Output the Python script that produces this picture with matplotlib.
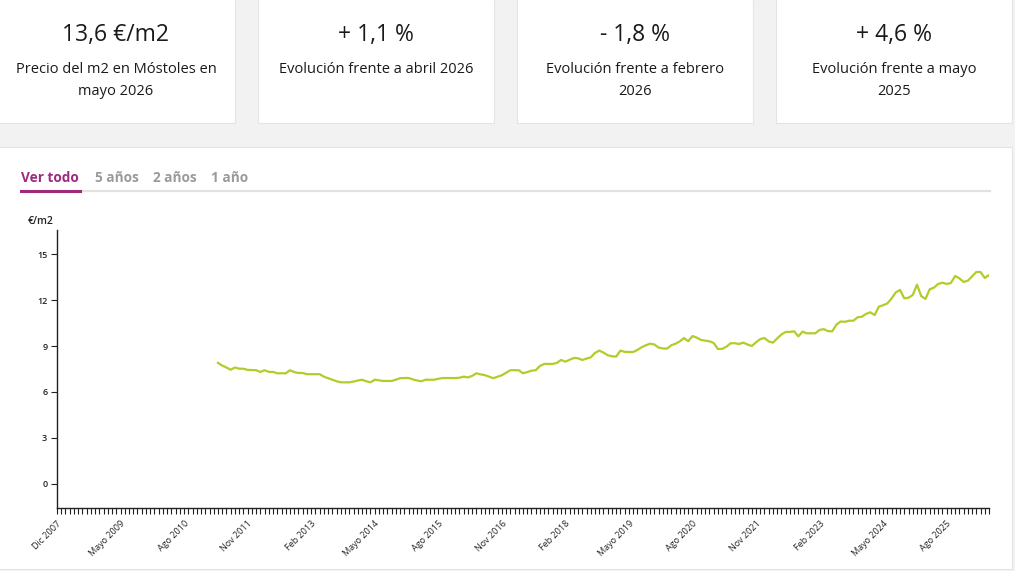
import matplotlib
matplotlib.use("Agg")
import matplotlib.pyplot as plt
from matplotlib.patches import Rectangle
from matplotlib.lines import Line2D

plt.rcParams['font.family'] = ['Open Sans', 'DejaVu Sans']

# Summary cards
card_values = ["13,6 €/m2", "+ 1,1 %", "- 1,8 %", "+ 4,6 %"]
card_labels = ["Precio del m2 en Móstoles en\nmayo 2026",
               "Evolución frente a abril 2026",
               "Evolución frente a febrero\n2026",
               "Evolución frente a mayo\n2025"]

# Tabs
tabs = ["Ver todo", "5 años", "2 años", "1 año"]

# X axis: month index, labels every 15 months
tick_labels = ["Dic 2007", "Mayo 2009", "Ago 2010", "Nov 2011", "Feb 2013",
               "Mayo 2014", "Ago 2015", "Nov 2016", "Feb 2018", "Mayo 2019",
               "Ago 2020", "Nov 2021", "Feb 2023", "Mayo 2024", "Ago 2025"]
n_months = 220
start_month = 38

# Price in €/m2, one value per month
prices = [
    7.90, 7.72, 7.60, 7.45, 7.60, 7.52, 7.52, 7.44, 7.43, 7.42,
    7.31, 7.42, 7.31, 7.31, 7.22, 7.22, 7.22, 7.42, 7.30, 7.24,
    7.24, 7.16, 7.16, 7.16, 7.16, 7.00, 6.90, 6.80, 6.70, 6.63,
    6.63, 6.63, 6.68, 6.75, 6.80, 6.70, 6.63, 6.80, 6.76, 6.72,
    6.72, 6.72, 6.80, 6.90, 6.91, 6.91, 6.82, 6.75, 6.70, 6.80,
    6.80, 6.80, 6.86, 6.91, 6.91, 6.91, 6.91, 6.93, 7.00, 6.95,
    7.05, 7.22, 7.15, 7.10, 7.00, 6.90, 7.00, 7.09, 7.25, 7.42,
    7.42, 7.42, 7.22, 7.30, 7.39, 7.42, 7.70, 7.83, 7.83, 7.83,
    7.90, 8.09, 7.98, 8.10, 8.22, 8.20, 8.09, 8.18, 8.26, 8.55,
    8.70, 8.57, 8.40, 8.33, 8.31, 8.70, 8.62, 8.61, 8.61, 8.74,
    8.92, 9.05, 9.15, 9.10, 8.90, 8.84, 8.83, 9.05, 9.15, 9.30,
    9.52, 9.31, 9.65, 9.55, 9.40, 9.35, 9.31, 9.20, 8.81, 8.81,
    8.95, 9.18, 9.18, 9.13, 9.22, 9.10, 9.00, 9.24, 9.45, 9.52,
    9.30, 9.22, 9.50, 9.75, 9.92, 9.92, 9.96, 9.63, 9.94, 9.83,
    9.83, 9.83, 10.05, 10.10, 9.97, 9.96, 10.40, 10.60, 10.58, 10.65,
    10.65, 10.88, 10.91, 11.10, 11.20, 11.02, 11.57, 11.66, 11.78, 12.10,
    12.50, 12.66, 12.11, 12.15, 12.33, 13.00, 12.26, 12.07, 12.70, 12.81,
    13.05, 13.13, 13.05, 13.11, 13.57, 13.42, 13.18, 13.26, 13.55, 13.83,
    13.83, 13.44, 13.63,
]
y_ticks = [0, 3, 6, 9, 12, 15]

W, H = 1015, 571
fig = plt.figure(figsize=(W / 100, H / 100), dpi=100)
fig.patch.set_facecolor("#f2f2f2")


def px(x, y):
    return x / W, 1 - y / H


def box(x0, y0, x1, y1):
    fx, fy = px(x0, y1)
    r = Rectangle((fx, fy), (x1 - x0) / W, (y1 - y0) / H, transform=fig.transFigure,
                  facecolor="white", edgecolor="#e4e4e4", linewidth=0.8, zorder=0)
    fig.add_artist(r)


# cards
card_x = [(-3, 235), (258, 494), (517, 753), (776, 1012)]
for (x0, x1), val, lab in zip(card_x, card_values, card_labels):
    box(x0, -1, x1, 123)
    cx = (x0 + x1) / 2
    fig.text(*px(cx, 35), val, ha="center", va="center", fontsize=16.5, color="#1a1a1a")
    fig.text(*px(cx, 62), lab, ha="center", va="top", fontsize=10.5, color="#1a1a1a",
             linespacing=1.6)

# chart panel
box(-3, 147, 1012, 569)

# tabs
tab_x = [21, 95, 153, 211]
for i, (t, x) in enumerate(zip(tabs, tab_x)):
    fig.text(*px(x, 178), t, ha="left", va="center", fontsize=9.8, fontweight="bold",
             color="#9e2a7e" if i == 0 else "#9a9a9a")
fig.add_artist(Line2D([80 / W, 990 / W], [1 - 191 / H] * 2, transform=fig.transFigure,
                      color="#e2e2e2", linewidth=1.6))
fig.add_artist(Line2D([21 / W, 80 / W], [1 - 191 / H] * 2, transform=fig.transFigure,
                      color="#9e2a7e", linewidth=2.2))

# chart
ax = fig.add_axes([57 / W, 63 / H, (989 - 57) / W, (508 - 230) / H])
ax.set_facecolor("none")
months = list(range(start_month, start_month + len(prices)))
ax.plot(months, prices, color="#b2cc2a", linewidth=1.6, solid_joinstyle="round")

ax.set_xlim(0, n_months)
ax.set_ylim(-1.57, 16.57)
ax.set_yticks(y_ticks)
ax.set_yticklabels([str(v) for v in y_ticks], fontsize=6.5, color="#222222",
                   fontweight="semibold")
ax.set_xticks([15 * i for i in range(len(tick_labels))])
ax.set_xticklabels(tick_labels, rotation=45, ha="right", rotation_mode="anchor",
                   fontsize=6.5, color="#222222")
ax.set_xticks(range(0, n_months + 1), minor=True)
ax.tick_params(axis="x", which="both", length=4, width=0.8, color="#222222", pad=4)
ax.tick_params(axis="y", length=4, width=0.8, color="#222222", pad=3)
for s in ["top", "right"]:
    ax.spines[s].set_visible(False)
for s in ["left", "bottom"]:
    ax.spines[s].set_linewidth(1.0)
    ax.spines[s].set_color("#222222")

fig.text(*px(28, 221), "€/m2", ha="left", va="center", fontsize=7.5,
         fontweight="semibold", color="#222222")

fig.savefig("out.png", dpi=100, facecolor=fig.get_facecolor())
